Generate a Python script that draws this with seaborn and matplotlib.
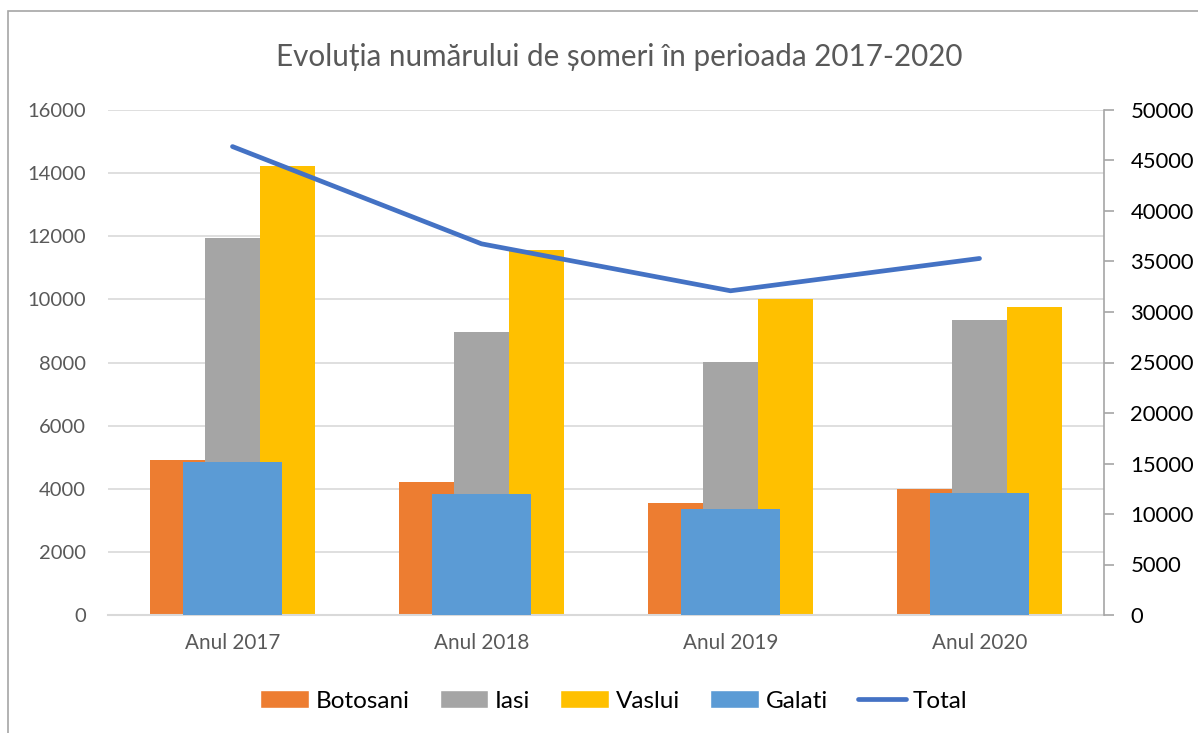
import numpy as np
import pandas as pd
import seaborn as sns
import matplotlib
matplotlib.use("Agg")
import matplotlib.pyplot as plt
from matplotlib.patches import Patch, Rectangle
from matplotlib.lines import Line2D

# data
years = ["Anul 2017", "Anul 2018", "Anul 2019", "Anul 2020"]
botosani = [4910, 4200, 3540, 3985]
iasi = [11960, 8970, 8020, 9355]
vaslui = [14210, 11580, 10020, 9770]
galati = [15180, 11980, 10500, 12050]   # secondary axis
total = [46380, 36750, 32100, 35300]    # secondary axis

colors = {"Botosani": "#ED7D31", "Iasi": "#A5A5A5", "Vaslui": "#FFC000"}
galati_color = "#5B9BD5"
total_color = "#4472C4"

sns.set_style("white")
plt.rcParams["font.family"] = ["Lato", "DejaVu Sans"]

df = pd.DataFrame({
    "an": years * 3,
    "judet": ["Botosani"] * 4 + ["Iasi"] * 4 + ["Vaslui"] * 4,
    "val": botosani + iasi + vaslui,
})

fig = plt.figure(figsize=(11.98, 7.33), dpi=100)
ax = fig.add_axes([108 / 1198, 1 - 615 / 733, 996 / 1198, 505 / 733])

sns.barplot(data=df, x="an", y="val", hue="judet", palette=colors,
            width=0.663, gap=0, saturation=1, errorbar=None,
            linewidth=0, legend=False, ax=ax)
ax.set_ylim(0, 16000)
ax.set_yticks(np.arange(0, 16001, 2000))
ax.yaxis.grid(True, color="#d9d9d9", linewidth=1.2)
ax.set_axisbelow(True)
for s in ["left", "right", "top"]:
    ax.spines[s].set_visible(False)
ax.spines["bottom"].set_color("#d9d9d9")
ax.spines["bottom"].set_linewidth(1.5)
ax.tick_params(axis="y", length=0, pad=16, labelsize=14.5, labelcolor="#595959")
ax.tick_params(axis="x", length=0, pad=13, labelsize=14.9, labelcolor="#595959")
ax.set_xlabel("")
ax.set_ylabel("")

ax2 = ax.twinx()
sns.barplot(x=years, y=galati, color=galati_color, width=0.398,
            saturation=1, errorbar=None, linewidth=0, ax=ax2)
ax2.plot(range(len(years)), total, color=total_color, linewidth=3.4,
         solid_capstyle="round", solid_joinstyle="round")
ax2.set_ylim(0, 50000)
ax2.set_yticks(np.arange(0, 50001, 5000))
ax2.set_xlim(-0.5, 3.5)
for s in ["left", "top", "bottom"]:
    ax2.spines[s].set_visible(False)
ax2.spines["right"].set_color("#a6a6a6")
ax2.spines["right"].set_linewidth(1.2)
ax2.tick_params(axis="y", direction="out", length=7, width=1.2, color="#a6a6a6",
                pad=12, labelsize=15.8, labelcolor="black")
ax2.set_ylabel("")

fig.text(619 / 1198, 1 - 57 / 733, "Evoluția numărului de șomeri în perioada 2017-2020",
         ha="center", va="center", fontsize=21.3, color="#595959")

handles = [Patch(facecolor=colors["Botosani"]), Patch(facecolor=colors["Iasi"]),
           Patch(facecolor=colors["Vaslui"]), Patch(facecolor=galati_color),
           Line2D([0], [0], color=total_color, linewidth=3.4, solid_capstyle="round")]
labels = ["Botosani", "Iasi", "Vaslui", "Galati", "Total"]
fig.legend(handles, labels, loc="center", bbox_to_anchor=(614 / 1198, 1 - 701 / 733),
           ncol=5, frameon=False, fontsize=17.5, handlelength=2.0, handleheight=0.7,
           handletextpad=0.28, columnspacing=1.23, labelcolor="black")

fig.add_artist(Rectangle((8 / 1198, -0.1), 1.2, 1.1 - 11 / 733, transform=fig.transFigure,
                         fill=False, edgecolor="#a6a6a6", linewidth=1.2))

fig.savefig("out.png", dpi=100)
